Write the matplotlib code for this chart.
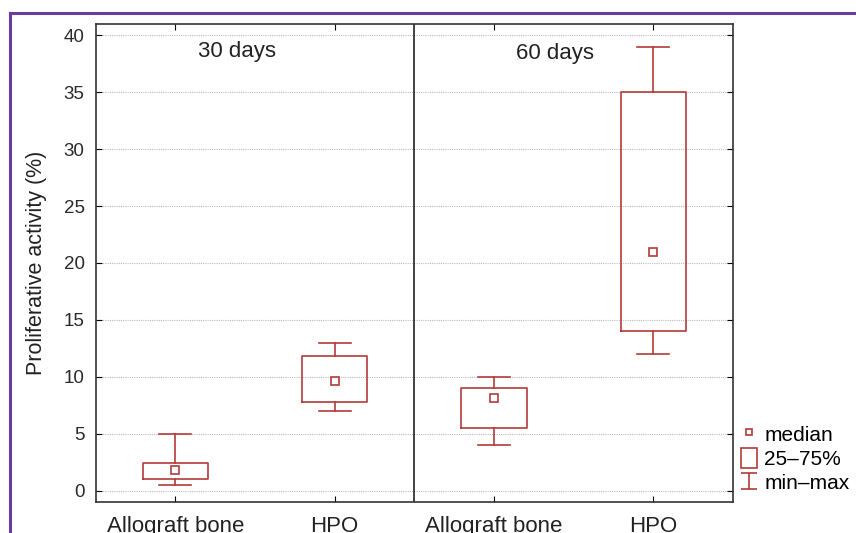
import numpy as np
import matplotlib.pyplot as plt
import matplotlib
from matplotlib.lines import Line2D
from matplotlib.patches import Patch
from matplotlib.path import Path

# data
groups = ["Allograft bone", "HPO", "Allograft bone", "HPO"]
periods = ["30 days", "60 days"]
medians = [1.8, 9.6, 8.1, 21.0]
q1 = [1.0, 7.8, 5.5, 14.0]
q3 = [2.45, 11.8, 9.0, 35.0]
mins = [0.5, 7.0, 4.0, 12.0]
maxs = [5.0, 13.0, 10.0, 39.0]
yticks = [0, 5, 10, 15, 20, 25, 30, 35, 40]

RED = "#b23b3b"
matplotlib.rcParams["font.family"] = ["Liberation Sans", "DejaVu Sans"]

fig = plt.figure(figsize=(8.56, 5.33), dpi=100)
ax = fig.add_axes([0.1118, 0.0582, 0.7445, 0.8968])

pos = np.arange(len(groups))
stats = []
for i in range(len(groups)):
    stats.append(dict(med=medians[i], q1=q1[i], q3=q3[i],
                      whislo=mins[i], whishi=maxs[i], fliers=[]))

lp = dict(color=RED, linewidth=1.2)
ax.bxp(stats, positions=pos, widths=0.41, capwidths=0.2, showfliers=False,
       boxprops=lp, whiskerprops=lp, capprops=lp,
       medianprops=dict(visible=False))
ax.plot(pos, medians, ls="none", marker="s", ms=5.5, mfc="white",
        mec=RED, mew=1.2, zorder=3)

ax.set_xlim(-0.5, 3.5)
ax.set_ylim(-1, 41)
ax.set_yticks(yticks)
ax.set_xticks(pos)
ax.set_xticklabels(groups, fontsize=16, color="#222222")
ax.tick_params(axis="y", labelsize=13.5, labelcolor="#2a2a2a", direction="in",
               length=4, right=True, pad=8)
ax.tick_params(axis="x", direction="in", length=4, top=True, pad=10)
ax.yaxis.grid(True, linestyle=(0, (1, 1)), color="#bbbbbb", linewidth=0.8)
ax.set_axisbelow(True)
for s in ax.spines.values():
    s.set_linewidth(1.2)
    s.set_color("#333333")

# panel divider
ax.axvline(1.5, color="#222222", linewidth=1.2)
ax.text(0.39, 38.6, periods[0], ha="center", va="center", fontsize=16, color="#222222")
ax.text(2.38, 38.4, periods[1], ha="center", va="center", fontsize=16, color="#222222")

ax.set_ylabel("Proliferative activity (%)", fontsize=15.5, color="#222222", labelpad=12)

# legend
ivert = Path([(-0.45, 0.5), (0.45, 0.5), (0, 0.5), (0, -0.5), (-0.45, -0.5), (0.45, -0.5)],
             [Path.MOVETO, Path.LINETO, Path.MOVETO, Path.LINETO, Path.MOVETO, Path.LINETO])
handles = [
    Line2D([], [], ls="none", marker="s", ms=4.5, mfc="white", mec=RED, mew=1.2),
    Patch(facecolor="white", edgecolor=RED, linewidth=1.2),
    Line2D([], [], ls="none", marker=ivert, ms=12, mec=RED, mew=1.2),
]
fig.legend(handles, ["median", "25\u201375%", "min\u2013max"], loc="upper left",
           bbox_to_anchor=(0.866, 0.205), frameon=False, fontsize=15,
           handlelength=0.75, handleheight=1.1, handletextpad=0.35,
           labelspacing=0.15, borderaxespad=0, borderpad=0)

# purple frame of the figure panel
fig.add_artist(Line2D([0.0117, 0.0117], [0, 0.9756], color="#6a3c9f", linewidth=2.2,
                      transform=fig.transFigure))
fig.add_artist(Line2D([0.0117, 1.0], [0.9756, 0.9756], color="#6a3c9f", linewidth=2.2,
                      transform=fig.transFigure))

fig.savefig("out.png", dpi=100)
